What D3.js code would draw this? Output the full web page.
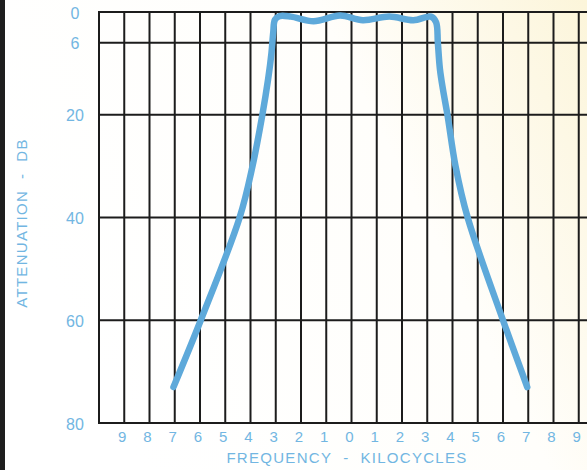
<!DOCTYPE html>
<html><head><meta charset="utf-8">
<script src="https://cdn.jsdelivr.net/npm/d3@7"></script>
<style>html,body{margin:0;padding:0;background:#fff;}svg{display:block;}</style>
</head><body>
<svg id="c" width="587" height="470"></svg>
<script>
// Data
const freqKc = [-7.05, -5.97, -4.43, -3.92, -3.53, -3.3, -3.17, -3.1, -3.03, -2.85, -2.4, -1.5, -0.45, 0.45, 1.5, 2.45, 3.15, 3.35, 3.42, 3.5, 3.62, 3.8, 4.12, 4.6, 6.0, 6.96];
const attenDb = [73, 60, 40, 30, 20, 13, 8, 4, 1.5, 0.8, 0.9, 1.8, 0.7, 1.6, 0.9, 1.6, 0.9, 2, 6, 11, 15, 20, 30, 40, 60, 73];
const yTicks = [0, 6, 20, 40, 60, 80];
const xGrid = d3.range(-10, 11);
const xLabels = d3.range(-9, 10);

const svg = d3.select("#c");
const W = 587, H = 470;
const defs = svg.append("defs");
const g = defs.append("linearGradient").attr("id","bg").attr("x1","0").attr("x2","1").attr("y1","0.4").attr("y2","0");
g.append("stop").attr("offset","0").attr("stop-color","#ffffff");
g.append("stop").attr("offset","0.6").attr("stop-color","#fffefb");
g.append("stop").attr("offset","1").attr("stop-color","#fcf5da");
svg.append("rect").attr("width",W).attr("height",H).attr("fill","url(#bg)");
svg.append("rect").attr("x",0).attr("y",0).attr("width",5).attr("height",H).attr("fill","#1e1e1e");

const x = d3.scaleLinear().domain([-10, 10]).range([99, 604]);
const y = d3.scaleLinear().domain([0, 80]).range([12, 423]);

const blue = "#72b6e2";
const font = "'Liberation Sans', Arial, sans-serif";
// grid
svg.append("g").selectAll("line").data(xGrid).join("line")
  .attr("x1", d => x(d)).attr("x2", d => x(d)).attr("y1", y(0)).attr("y2", y(80))
  .attr("stroke", "#1c1c1c").attr("stroke-width", 2);
svg.append("g").selectAll("line").data(yTicks).join("line")
  .attr("x1", x(-10) - 1).attr("x2", x(10)).attr("y1", d => y(d)).attr("y2", d => y(d))
  .attr("stroke", "#1c1c1c").attr("stroke-width", 2);

// curve
const line = d3.line().x((d,i) => x(freqKc[i])).y((d,i) => y(attenDb[i])).curve(d3.curveCatmullRom.alpha(0.5));
svg.append("path").datum(attenDb).attr("d", line).attr("fill","none")
  .attr("stroke", "#5ea9da").attr("stroke-width", 6.5).attr("stroke-linecap","round").attr("stroke-linejoin","round");

// y labels
svg.append("g").selectAll("text").data(yTicks).join("text")
  .attr("x", 75).attr("y", d => y(d) + 1).attr("dy","0.35em").attr("text-anchor","middle")
  .attr("font-family", font).attr("font-size", 16).attr("fill", blue)
  .text(d => d);
// x labels
svg.append("g").selectAll("text").data(xLabels).join("text")
  .attr("x", d => x(d) - 2).attr("y", 437).attr("dy","0.35em").attr("text-anchor","middle")
  .attr("font-family", font).attr("font-size", 15).attr("fill", blue)
  .text(d => Math.abs(d));
// titles
svg.append("text").attr("x", 347).attr("y", 458).attr("dy","0.35em").attr("text-anchor","middle")
  .attr("font-family", font).attr("font-size", 15).attr("letter-spacing", 1.3).attr("fill", blue)
  .text("FREQUENCY\u00a0\u00a0-\u00a0\u00a0KILOCYCLES");
svg.append("text").attr("transform","translate(22,223) rotate(-90)").attr("dy","0.35em").attr("text-anchor","middle")
  .attr("font-family", font).attr("font-size", 15).attr("letter-spacing", 1.3).attr("fill", blue)
  .text("ATTENUATION\u00a0\u00a0-\u00a0\u00a0DB");
</script>
</body></html>
